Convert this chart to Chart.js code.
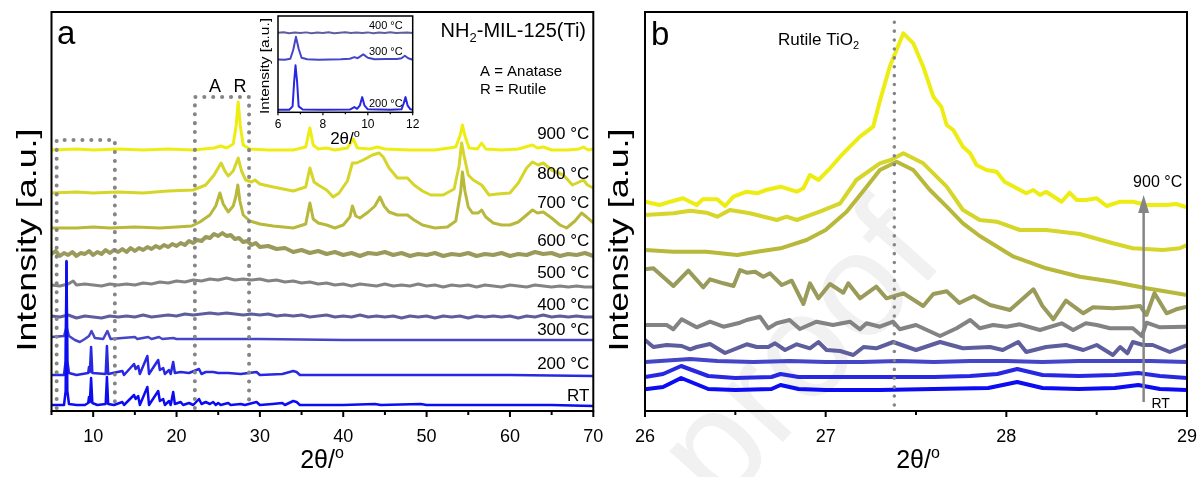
<!DOCTYPE html>
<html>
<head>
<meta charset="utf-8">
<title>NH2-MIL-125(Ti) XRD</title>
<script src="https://cdn.jsdelivr.net/npm/chart.js@4.4.1/dist/chart.umd.min.js"></script>
<style>
  body { margin: 0; background: #fff; width: 1200px; height: 477px; position: relative; overflow: hidden; }
  canvas { position: absolute; }
</style>
</head>
<body>
<canvas id="chartB" width="620" height="477" style="left:600px;top:0"></canvas>
<canvas id="chartA" width="620" height="477" style="left:0;top:0"></canvas>
<canvas id="inset" width="180" height="140" style="left:250px;top:10px"></canvas>
<script>
const FONT = '"Liberation Sans", Arial, Helvetica, sans-serif'

// series names, bottom to top
const names = ['RT', '200 °C', '300 °C', '400 °C', '500 °C', '600 °C', '700 °C', '800 °C', '900 °C']
const colors = ['#0c0cf2', '#2828e2', '#4545c8', '#5e5e9e', '#838383', '#9a9a5a', '#b8b83a', '#d5d52a', '#eded14']

// ---- panel a : 2θ 5-70, intensity in a.u. (stacked)
const rtA = [[5,6],[6,6],[6.5,6],[6.7,20],[6.8,149],[6.9,20],[7.1,7],[8,6],[9,6],[9.4,8],[9.5,14],[9.6,9],[9.75,33],[9.9,8],[10.5,6],[11.5,7],[11.65,34],[11.8,7],[12.5,6],[13.5,9],[13.7,6],[14.9,16],[15.1,12],[15.4,15],[15.6,6],[16.5,24],[16.7,6],[17.8,20],[18.0,10],[18.4,12],[18.6,6],[19.1,10],[19.3,6],[19.6,19],[19.8,7],[20.5,9],[20.8,6],[21.5,8],[22,6],[22.7,12],[23,7],[23.5,9],[24.0,7],[24.4,9],[24.7,6],[25.0,8],[25.3,6],[26.2,8],[26.5,6],[27.7,7],[28.2,6],[29.6,9],[30,6],[31.5,7],[32.7,8],[33,6],[34.0,10],[34.4,9],[34.8,6],[37,6],[40,6],[43.8,7],[44.5,6],[49.3,7],[50,6],[55,6],[60,6],[65,6],[70,5]]
const t200A = [[5,36],[6.5,36],[6.7,50],[6.8,150],[6.9,50],[7.1,38],[8,36],[9.4,38],[9.5,44],[9.6,39],[9.75,64],[9.9,38],[11.5,37],[11.65,65],[11.8,37],[13.5,40],[13.7,36],[14.9,47],[15.1,42],[15.4,45],[15.6,37],[16.5,55],[16.7,37],[17.8,51],[18.0,41],[18.4,43],[18.6,37],[19.1,41],[19.3,37],[19.6,49],[19.8,38],[20.5,39],[21.5,38],[22.7,42],[23,37],[23.5,39],[24.4,39],[25,38],[26.2,38],[27.7,37],[29.6,39],[30,36],[32.7,37],[34.0,40],[34.4,39],[34.8,36],[40,36],[50,36],[60,36],[70,35]]
const t300A = [[5,74],[6.5,75],[6.8,84],[7.1,75],[7.8,71],[8.4,69],[9.0,72],[9.5,75],[9.8,80],[10.2,73],[11.2,72],[11.7,80],[12.1,72],[13.5,73],[15,74],[15.3,72],[16.6,74],[17.0,72],[17.9,74],[18.3,72],[19.6,73],[20,72],[30,72],[40,71],[50,71],[60,71],[70,71]]
const t400A = [[5,95],[6,94],[7,96],[8,93],[9,95],[10,94],[11,93],[12,95],[13,94],[14,95],[15,94],[16,96],[17,94],[18,95],[19,96],[20,95],[21,97],[22,96],[23,97],[24,98],[25,97],[26,98],[27,97],[28,96],[29,97],[30,96],[31,97],[32,95],[33,96],[34,95],[35,96],[36,94],[37,95],[38,96],[39,94],[40,95],[41,94],[42,96],[43,94],[44,95],[45,94],[46,95],[47,93],[48,95],[49,94],[50,95],[51,93],[52,95],[53,94],[54,95],[55,93],[56,95],[57,94],[58,95],[59,94],[60,95],[61,93],[62,95],[63,94],[64,96],[65,94],[66,95],[67,94],[68,95],[69,94],[70,94]]
const t500A = [[5,126],[6,125],[7,127],[7.6,130],[8,126],[9,127],[10,126],[11,125],[12,127],[13,126],[14,127],[15,126],[16,128],[17,127],[18,129],[19,128],[20,130],[21,129],[22,131],[23,130],[24,132],[25,131],[26,133],[27,131],[28,132],[29,131],[30,132],[31,130],[32,131],[33,129],[34,130],[35,128],[36,129],[37,127],[38,128],[39,126],[40,127],[41,125],[42,127],[43,126],[44,125],[45,127],[46,125],[47,126],[48,125],[49,127],[50,125],[51,126],[52,124],[53,126],[54,125],[55,126],[56,124],[57,126],[58,125],[59,124],[60,126],[61,125],[62,124],[63,126],[64,125],[65,124],[66,125],[67,124],[68,125],[69,124],[70,124]]
const t600A = [[5,157],[5.5,160],[6,155],[6.5,158],[7,156],[7.5,159],[8,155],[8.5,158],[9,157],[9.5,160],[10,156],[10.5,159],[11,157],[11.5,161],[12,158],[12.5,161],[13,159],[13.5,162],[14,159],[14.5,163],[15,160],[15.5,163],[16,161],[16.5,164],[17,162],[17.5,165],[18,163],[18.5,166],[19,164],[19.5,167],[20,165],[20.5,168],[21,166],[21.5,170],[22,168],[22.5,171],[23,170],[23.5,174],[24,173],[24.5,177],[25,175],[25.5,178],[26,175],[26.5,176],[27,172],[27.5,173],[28,169],[28.5,170],[29,166],[29.5,168],[30,164],[31,165],[32,162],[33,163],[34,159],[35,161],[36,158],[37,160],[38,157],[39,159],[40,156],[41,158],[42,155],[43,158],[44,157],[45,159],[46,156],[47,158],[48,155],[49,157],[50,156],[51,158],[52,155],[53,157],[54,156],[55,158],[56,155],[57,157],[58,156],[59,158],[60,155],[61,157],[62,156],[63,159],[64,157],[65,158],[66,155],[67,157],[68,156],[69,158],[70,155]]
const t700A = [[5,183],[8,183],[10,184],[12,183],[15,184],[18,183],[20,184],[21.8,185],[22.8,189],[24,196],[24.7,205],[25.2,218],[25.6,207],[26.2,199],[26.8,205],[27.1,214],[27.35,226],[27.6,210],[28.0,196],[28.8,190],[30,187],[31.6,185],[34,183],[35.5,187],[36.0,208],[36.4,192],[37,188],[38,186],[39,183],[40,186],[40.8,194],[41.1,205],[41.5,195],[42,193],[43,199],[43.8,205],[44.4,214],[44.9,205],[45.5,199],[46.5,196],[47.7,196],[48.5,191],[49.5,186],[51,183],[52.5,184],[53.5,190],[54.1,220],[54.3,239],[54.6,220],[55,204],[55.5,198],[56.2,198],[56.6,201],[57.1,194],[58,188],[59,186],[60,186],[61,189],[62,196],[62.7,201],[63.3,198],[64,199],[65,193],[66,186],[66.8,183],[67.8,190],[68.6,198],[69.2,194],[70,188]]
const t800A = [[5,218],[8,219],[10,218],[13,219],[16,218],[19,220],[22,221],[23.5,226],[24.5,236],[25.35,248],[25.8,240],[26.2,235],[26.8,240],[27.4,253],[27.8,240],[28.3,231],[29.0,229],[29.4,231],[30,227],[31.6,224],[34,220],[35.5,224],[36.0,243],[36.5,229],[37,226],[38,221],[38.8,214],[39.5,218],[40.5,230],[41.1,248],[41.6,248],[42.4,251],[43.5,256],[44.3,258],[44.8,254],[45.5,243],[46.5,233],[47.7,233],[48.5,226],[49.5,220],[50.5,216],[52,216],[53.3,222],[53.9,245],[54.2,268],[54.5,255],[55.0,236],[55.6,231],[56.6,226],[57.5,216],[58.5,217],[60,218],[61,228],[62,243],[62.7,249],[63.4,246],[64,248],[65,241],[66.4,236],[67.5,226],[68.3,229],[68.8,231],[69.3,226],[70,223]]
const t900A = [[5,261],[8,262],[10,261],[13,262],[16,261],[19,262],[22,261],[24.5,263],[25.3,265],[26,263],[26.8,267],[27.15,285],[27.4,309],[27.65,285],[28.0,266],[28.8,262],[31,261],[34,261],[35.5,264],[36.0,283],[36.4,266],[37,262],[38.0,263],[39.0,261],[40.5,263],[41.2,272],[41.7,263],[43.2,262],[44.1,264],[45,262],[48,261],[51,261],[53.5,264],[54.0,275],[54.3,286],[54.6,275],[55.1,263],[56.1,262],[56.6,268],[57.1,262],[59,261],[61,262],[62.7,266],[63.3,263],[64,264],[65,261],[67,261],[68.3,262],[68.8,264],[69.4,261],[70,262]]
const seriesA = [rtA, t200A, t300A, t400A, t500A, t600A, t700A, t800A, t900A]
const labelYA = [16, 48, 82, 107, 139, 171, 209, 238, 278]
// dotted zoom boxes (2θ, a.u.)
const boxLow = [[5.62,3],[5.62,271],[12.6,271],[12.6,3]]
const boxAR = [[22.2,3],[22.2,314],[28.7,314],[28.7,3]]

// ---- inset : 2θ 6-12
const namesIn = ['200 °C', '300 °C', '400 °C']
const t200In = [[6,1.5],[6.5,1.5],[6.65,5],[6.72,30],[6.78,46.3],[6.85,30],[6.92,5],[7.1,1.8],[8,1.5],[9.2,1.8],[9.4,4.3],[9.52,2.5],[9.65,6],[9.75,14.3],[9.85,6],[10,2],[11,1.5],[11.5,2],[11.6,8],[11.68,14.3],[11.77,6],[11.9,2],[12,1.5]]
const t300In = [[6,52.3],[6.3,52],[6.55,53],[6.68,62],[6.8,75],[6.92,63],[7.05,54],[7.3,52.5],[7.8,52],[8.3,52.3],[8.8,52.5],[9.2,53],[9.4,54.6],[9.55,53.5],[9.8,57.3],[10.0,54],[10.3,52.5],[10.8,52.6],[11.3,52.8],[11.5,53.5],[11.65,56],[11.8,53.5],[12,52]]
const t400In = [[6,79],[6.25,79.6],[6.5,78.6],[6.75,79.4],[7,78.8],[7.25,79.5],[7.5,78.7],[7.75,79.3],[8,78.9],[8.25,79.6],[8.5,78.6],[8.75,79.2],[9,79.7],[9.25,78.8],[9.5,79.4],[9.75,78.9],[10,79.5],[10.25,78.7],[10.5,79.3],[10.75,78.9],[11,79.6],[11.25,78.8],[11.5,79.2],[11.75,79.5],[12,78.9]]
const seriesIn = [t200In, t300In, t400In]
const labelYIn = [8.3, 60.6, 87.3]

// ---- panel b : 2θ 26-29
const rtB = [[26,21.7],[26.1,24],[26.2,33],[26.35,22],[26.5,21],[26.7,22],[26.75,26],[26.85,22],[27,21],[27.3,21],[27.6,22],[27.9,23],[28.06,29],[28.2,23],[28.4,22],[28.6,23],[28.73,26],[28.85,22],[29,21]]
const t200B = [[26,34],[26.1,37],[26.2,45],[26.35,35],[26.5,33],[26.7,34],[26.75,37],[26.85,34],[27,34],[27.3,34],[27.6,34],[27.8,35],[27.95,37],[28.06,42],[28.2,36],[28.4,35],[28.6,36],[28.73,38],[28.85,35],[29,33]]
const t300B = [[26,49],[26.25,52],[26.4,50],[26.6,49],[26.8,50],[27,49],[27.2,49],[27.4,50],[27.6,49],[27.8,50],[28,50],[28.2,49],[28.4,50],[28.6,50],[28.8,50],[29,49]]
const t400B = [[26,71],[26.046,64],[26.12,66],[26.203,65],[26.25,61.7],[26.286,64],[26.36,67],[26.443,58],[26.563,66.7],[26.618,64],[26.682,64],[26.72,67.7],[26.775,61],[26.84,66.7],[26.913,62.7],[26.96,69],[27.005,61],[27.08,60],[27.153,56],[27.21,64],[27.28,62.7],[27.374,69],[27.5,61],[27.633,69],[27.76,62.7],[27.91,64],[27.98,61],[28.066,69],[28.11,59],[28.22,64],[28.33,66],[28.426,61],[28.5,66],[28.59,56],[28.63,64],[28.67,57.7],[28.70,69],[28.757,66],[28.81,66],[28.905,59],[29,66]]
const t500B = [[26,86],[26.12,86],[26.157,81.7],[26.203,91.7],[26.286,83.7],[26.36,89.3],[26.434,84.3],[26.526,88.3],[26.563,91],[26.636,94.3],[26.682,82.7],[26.729,87.7],[26.8,91],[26.857,82],[26.95,89.3],[27.04,86],[27.134,89.3],[27.19,81.7],[27.226,87.7],[27.3,84.3],[27.374,89.3],[27.41,81.7],[27.5,86],[27.633,75],[27.725,82.7],[27.8,91],[27.853,82.7],[27.927,86],[28.0,84.3],[28.075,86.7],[28.186,81],[28.306,87.7],[28.37,81],[28.44,87.7],[28.5,86],[28.574,82.7],[28.70,82.7],[28.75,75],[28.776,88.3],[28.85,83.7],[29,84.3]]
const t600B = [[26,141.7],[26.046,142.7],[26.157,125],[26.24,140.3],[26.323,123.7],[26.36,131.7],[26.434,127.7],[26.49,125],[26.526,141],[26.563,138.3],[26.61,139.3],[26.655,134.3],[26.692,137.7],[26.757,126],[26.812,130.3],[26.877,107],[26.913,127.7],[26.96,112.7],[27.024,127],[27.098,118.3],[27.125,127.7],[27.19,112.7],[27.28,124.3],[27.337,112.7],[27.40,116],[27.43,117.7],[27.54,105],[27.596,117],[27.67,119.7],[27.74,108],[27.82,115],[27.91,106],[28.02,101],[28.15,121.7],[28.2,105],[28.26,91.7],[28.33,110.3],[28.426,97.7],[28.48,103.7],[28.59,102.7],[28.68,103.7],[28.74,105],[28.776,96],[28.82,117.7],[28.887,97.7],[28.94,101.7],[29,104.3]]
const t700B = [[26,161],[26.157,159.3],[26.34,159.3],[26.51,156],[26.62,159.3],[26.75,162.7],[26.894,171],[27.0,181],[27.116,199.3],[27.227,224.3],[27.30,241],[27.393,249.3],[27.485,241],[27.577,221],[27.67,204.3],[27.76,187.7],[27.853,175],[28.04,154.3],[28.22,142.7],[28.407,134.3],[28.59,129.3],[28.776,122.7],[29,116]]
const t800B = [[26,196],[26.157,197.7],[26.25,200.3],[26.34,198.3],[26.4,194.3],[26.47,201],[26.58,197.7],[26.73,191],[26.784,194.3],[26.84,191],[26.968,199.3],[27.08,207.7],[27.17,231],[27.30,247.7],[27.36,251],[27.43,257.7],[27.54,247.7],[27.67,224.3],[27.76,201],[27.853,191],[27.946,189.3],[28.075,181],[28.22,181],[28.407,177],[28.59,167.7],[28.70,162.7],[28.867,161],[28.96,162.7],[29,166]]
const t900B = [[26,209.3],[26.08,206],[26.14,209.3],[26.21,212.7],[26.286,206],[26.32,211.7],[26.4,211.7],[26.443,205],[26.49,214.3],[26.563,219.3],[26.62,217.7],[26.67,221],[26.75,224.3],[26.84,219.3],[26.876,222.7],[26.913,236],[26.96,231],[27.024,242.7],[27.08,254.3],[27.134,264.3],[27.19,274.3],[27.263,284.3],[27.30,310],[27.356,345],[27.43,377.7],[27.485,367.7],[27.54,344.3],[27.596,314.3],[27.64,304.3],[27.67,286],[27.706,281],[27.76,264.3],[27.8,257.7],[27.835,246],[27.89,241],[27.946,239.3],[27.99,229.3],[28.11,217.7],[28.15,221],[28.186,216],[28.22,219.3],[28.306,209.3],[28.35,218.3],[28.39,211],[28.44,211],[28.5,212.7],[28.556,205],[28.63,209.3],[28.70,209.3],[28.776,206],[28.887,206],[28.94,207],[29,203.7]]
const seriesB = [rtB, t200B, t300B, t400B, t500B, t600B, t700B, t800B, t900B]
const rutileLine = [[27.38,6],[27.38,396]]
const arrowB = [[28.76,9],[28.76,200]]

const xy = arr => arr.map(p => ({x: p[0], y: p[1]}))

function rich(ctx, parts, x, y, size, align) {
  ctx.save()
  ctx.fillStyle = '#000'
  ctx.textBaseline = 'alphabetic'
  ctx.textAlign = 'left'
  const f = m => (m ? Math.round(size * 0.64) : size) + 'px ' + FONT
  let w = 0
  parts.forEach(([t, m]) => { ctx.font = f(m); w += ctx.measureText(t).width })
  let cx = align === 'right' ? x - w : align === 'center' ? x - w / 2 : x
  parts.forEach(([t, m]) => {
    ctx.font = f(m)
    const dy = m === 'sub' ? size * 0.25 : m === 'sup' ? -size * 0.4 : 0
    ctx.fillText(t, cx, y + dy)
    cx += ctx.measureText(t).width
  })
  ctx.restore()
}

function vtitle(ctx, text, cx, cy, size, len) {
  ctx.save()
  ctx.translate(cx, cy)
  ctx.rotate(-Math.PI / 2)
  ctx.font = size + 'px ' + FONT
  const w = ctx.measureText(text).width
  ctx.scale(len / w, 1)
  ctx.fillStyle = '#000'
  ctx.textAlign = 'center'
  ctx.textBaseline = 'middle'
  ctx.fillText(text, 0, 0)
  ctx.restore()
}

function frame(ctx, ca, w) {
  ctx.save()
  ctx.strokeStyle = '#000'
  ctx.lineWidth = w
  ctx.strokeRect(ca.left, ca.top, ca.right - ca.left, ca.bottom - ca.top)
  ctx.restore()
}

function ticks(ctx, sc, y0, from, to, step, every, big, small, w) {
  ctx.save()
  ctx.strokeStyle = '#000'
  ctx.lineWidth = w
  const n = Math.round((to - from) / step)
  for (let i = 0; i <= n; i++) {
    const v = from + i * step
    const px = sc.getPixelForValue(v)
    const major = Math.abs(v / every - Math.round(v / every)) < 1e-6
    ctx.beginPath()
    ctx.moveTo(px, y0)
    ctx.lineTo(px, y0 + (major ? big : small))
    ctx.stroke()
  }
  ctx.restore()
}

const dotted = (data, width) => ({
  data: xy(data), borderColor: '#858585', borderWidth: width,
  borderDash: [0.1, 8.8], borderCapStyle: 'round', pointRadius: 0, tension: 0
})

const lineSets = (list, widths) => list.map((s, i) => ({
  label: names[i], data: xy(s), borderColor: colors[i],
  borderWidth: widths[i], pointRadius: 0, tension: 0,
  borderJoinStyle: 'round', borderCapStyle: 'round'
}))

const baseOpts = (xmin, xmax, step, ymax, pad, xh, fsize, tpad) => ({
  responsive: false,
  animation: false,
  events: [],
  layout: { padding: pad },
  plugins: { legend: { display: false }, tooltip: { enabled: false } },
  scales: {
    x: {
      type: 'linear', min: xmin, max: xmax,
      afterFit: s => { s.height = xh },
      grid: { display: false, drawTicks: false }, border: { display: false },
      ticks: { stepSize: step, padding: tpad, color: '#000', font: { family: FONT, size: fsize },
        callback: v => Number.isInteger(v) ? v : '' }
    },
    y: { display: false, min: ymax[0], max: ymax[1] }
  }
})

// ---------- panel a
const optsA = baseOpts(5, 70, 5, [0, 399], { left: 51.5, right: 26.7, top: 12, bottom: 0 }, 66, 18, 15)
optsA.scales.x.ticks.callback = v => v % 10 === 0 ? v : ''

const decorA = {
  id: 'decorA',
  afterDraw(chart) {
    const { ctx, chartArea: ca, scales: { x, y } } = chart
    frame(ctx, ca, 2)
    ticks(ctx, x, ca.bottom, 5, 70, 5, 10, 6, 4, 2)
    names.forEach((n, i) => rich(ctx, [[n, '']], ca.right - 4, y.getPixelForValue(labelYA[i]) + 6, 17, 'right'))
    rich(ctx, [['a', '']], 57, 44, 33, 'left')
    rich(ctx, [['NH', ''], ['2', 'sub'], ['-MIL-125(Ti)', '']], 586, 37, 20, 'right')
    rich(ctx, [['A = Anatase', '']], 480, 76, 15, 'left')
    rich(ctx, [['R = Rutile', '']], 480, 94, 15, 'left')
    rich(ctx, [['A', '']], 215, 92, 18, 'center')
    rich(ctx, [['R', '']], 240, 92, 18, 'center')
    rich(ctx, [['2θ/', ''], ['o', 'sup']], 322, 468, 25, 'center')
    vtitle(ctx, 'Intensity [a.u.]', 28, 240, 28, 223)
  }
}

new Chart(document.getElementById('chartA'), {
  type: 'line',
  data: { datasets: [dotted(boxLow, 4), dotted(boxAR, 4)].concat(lineSets(seriesA, [2.5, 2.5, 2.5, 3, 3, 4, 3, 3, 3])) },
  options: optsA,
  plugins: [decorA]
})

// ---------- inset
const optsIn = baseOpts(6, 12, 1, [-1, 96], { left: 28, right: 17.3, top: 6, bottom: 0 }, 37.7, 12, 5)
optsIn.scales.x.ticks.callback = v => v % 2 === 0 ? v : ''

const decorIn = {
  id: 'decorIn',
  beforeDraw(chart) {
    const { ctx, chartArea: ca } = chart
    ctx.save()
    ctx.fillStyle = '#fff'
    ctx.fillRect(ca.left, ca.top, ca.right - ca.left, ca.bottom - ca.top)
    ctx.restore()
  },
  afterDraw(chart) {
    const { ctx, chartArea: ca, scales: { x, y } } = chart
    frame(ctx, ca, 1.5)
    ticks(ctx, x, ca.bottom, 6, 12, 1, 2, 3, 2, 1.2)
    namesIn.forEach((n, i) => rich(ctx, [[n, '']], ca.right - 10, y.getPixelForValue(labelYIn[i]) + 4, 11, 'right'))
    rich(ctx, [['2θ/', ''], ['o', 'sup']], 95, 134, 17, 'center')
    vtitle(ctx, 'Intensity [a.u.]', 15, 56, 13, 96)
  }
}

new Chart(document.getElementById('inset'), {
  type: 'line',
  data: {
    datasets: seriesIn.map((s, i) => ({
      label: namesIn[i], data: xy(s), borderColor: colors[i + 1], borderWidth: 2,
      pointRadius: 0, tension: 0, borderJoinStyle: 'round'
    }))
  },
  options: optsIn,
  plugins: [decorIn]
})

// ---------- panel b
const optsB = baseOpts(26, 29, 0.5, [0, 399], { left: 45, right: 33, top: 12, bottom: 0 }, 66, 18, 15)

const decorB = {
  id: 'decorB',
  beforeDraw(chart) {
    const { ctx } = chart
    ctx.save()
    ctx.translate(121, 511)
    ctx.rotate(-48 * Math.PI / 180)
    ctx.font = '148px ' + FONT
    ctx.fillStyle = '#f1f1f1'
    ctx.fillText('proof', 0, 0)
    ctx.restore()
  },
  afterDraw(chart) {
    const { ctx, chartArea: ca, scales: { x, y } } = chart
    frame(ctx, ca, 2)
    ticks(ctx, x, ca.bottom, 26, 29, 0.5, 1, 6, 4, 2)
    // arrow head
    const ax = x.getPixelForValue(arrowB[1][0])
    const tip = y.getPixelForValue(216)
    const base = y.getPixelForValue(198)
    ctx.save()
    ctx.fillStyle = '#858585'
    ctx.beginPath()
    ctx.moveTo(ax, tip)
    ctx.lineTo(ax + 5.5, base)
    ctx.lineTo(ax - 5.5, base)
    ctx.closePath()
    ctx.fill()
    ctx.restore()
    rich(ctx, [['900 °C', '']], ax + 14, tip - 8, 16, 'center')
    rich(ctx, [['RT', '']], ax + 17, 408, 14, 'center')
    rich(ctx, [['b', '']], 51, 45, 33, 'left')
    rich(ctx, [['Rutile TiO', ''], ['2', 'sub']], 178, 45, 17, 'left')
    rich(ctx, [['2θ/', ''], ['o', 'sup']], 318, 468, 25, 'center')
    vtitle(ctx, 'Intensity [a.u.]', 20, 240, 28, 223)
  }
}

new Chart(document.getElementById('chartB'), {
  type: 'line',
  data: {
    datasets: [dotted(rutileLine, 3.5)]
      .concat([{ data: xy(arrowB), borderColor: '#858585', borderWidth: 2.5, pointRadius: 0 }])
      .concat(lineSets(seriesB, [4, 4, 4, 4, 4, 4, 4, 4, 4]))
  },
  options: optsB,
  plugins: [decorB]
})
</script>
</body>
</html>
